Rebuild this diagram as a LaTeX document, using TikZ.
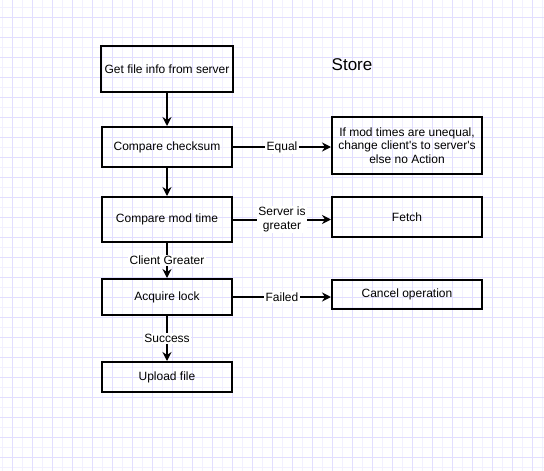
\documentclass[tikz,border=0pt]{standalone}
\usepackage{fontspec}
\setmainfont{Liberation Sans}
\usepackage{tikz}
\usetikzlibrary{arrows.meta}
\tikzset{>={Stealth[length=9pt,width=9pt,inset=3pt]}}
\definecolor{gridlight}{RGB}{242,240,255}
\definecolor{griddark}{RGB}{226,222,255}

\begin{document}
\begin{tikzpicture}[x=1pt,y=-1pt,
    stepbox/.style={draw,line width=2pt,minimum width=130pt,align=center,
      font=\fontsize{12}{13.3}\selectfont},
    sidebox/.style={stepbox,minimum width=150pt},
    flow/.style={->,line width=2pt},
    edgelabel/.style={fill=white,inner sep=1.5pt,align=center,
      font=\fontsize{12}{13.3}\selectfont}]
       \useasboundingbox (0,0) rectangle (544,471);
       \fill[white] (0,0) rectangle (544,471);
       \foreach \x in {2.7,12.7,...,544} \draw[gridlight,line width=1pt] (\x,0) -- (\x,471);
       \foreach \y in {7.3,17.3,...,471} \draw[gridlight,line width=1pt] (0,\y) -- (544,\y);
       \foreach \x in {12.7,32.7,...,544} \draw[griddark,line width=1pt] (\x,0) -- (\x,471);
       \foreach \y in {17.3,37.3,...,471} \draw[griddark,line width=1pt] (0,\y) -- (544,\y);
       % left column
       \node[stepbox,minimum height=46pt] (getinfo) at (167,69) {Get file info from server};
       \node[stepbox,minimum height=40pt] (checksum) at (167,147) {Compare checksum};
       \node[stepbox,minimum height=45pt] (modtime) at (167,219.5) {Compare mod time};
       \node[stepbox,minimum height=36pt] (lock) at (167,297) {Acquire lock};
       \node[stepbox,minimum height=30pt] (upload) at (167,377) {Upload file};
       % right column
       \node[font=\fontsize{17}{20}\selectfont] (store) at (352,65) {Store};
       \node[sidebox,minimum height=57pt] (unequal) at (407,145.5) {If mod times are unequal,\\change client\textquotesingle s to server\textquotesingle s\\else no Action};
       \node[sidebox,minimum height=40pt] (fetch) at (407,217) {Fetch};
       \node[sidebox,minimum height=29pt] (cancel) at (407,294.7) {Cancel operation};
       % connectors
       \draw[flow] (getinfo) -- (checksum);
       \draw[flow] (checksum) -- (modtime);
       \draw[flow] (modtime) -- node[edgelabel]{Client Greater} (lock);
       \draw[flow] (lock) -- node[edgelabel]{Success} (upload);
       \draw[flow] (checksum) -- node[edgelabel]{Equal} (checksum -| unequal.west);
       \draw[flow] (modtime) -- node[edgelabel]{Server is\\greater} (modtime -| fetch.west);
       \draw[flow] (lock) -- node[edgelabel]{Failed} (lock -| cancel.west);
      \end{tikzpicture}
\end{document}
